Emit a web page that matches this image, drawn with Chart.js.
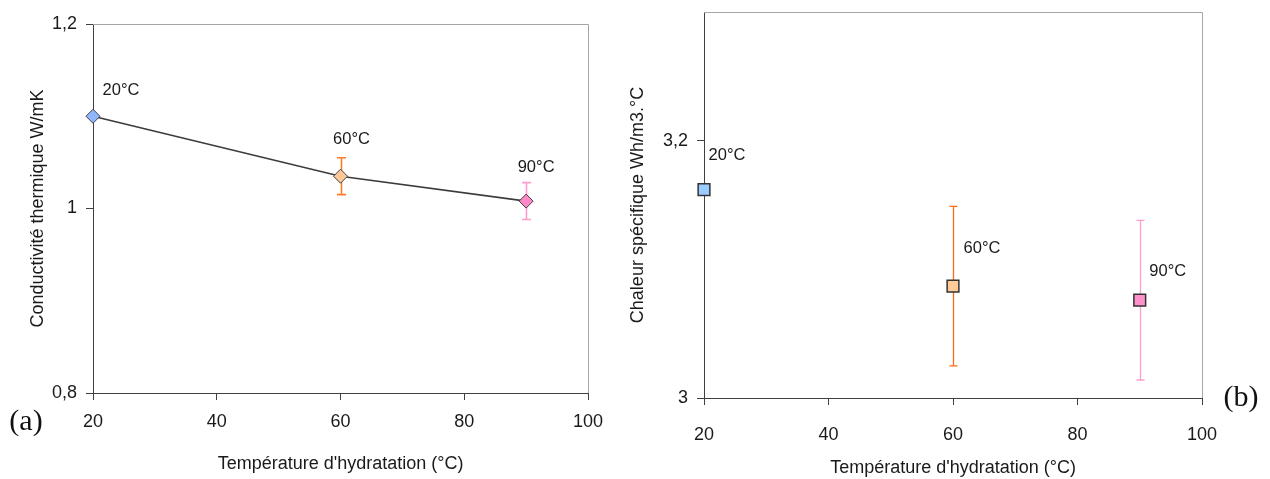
<!DOCTYPE html>
<html>
<head>
<meta charset="utf-8">
<script src="https://cdn.jsdelivr.net/npm/chart.js@4/dist/chart.umd.min.js"></script>
<style>
  html, body { margin: 0; padding: 0; background: #ffffff; }
  body { width: 1270px; height: 479px; position: relative; overflow: hidden; }
  canvas { position: absolute; top: 0; }
  #ca { left: 0; }
  #cb { left: 620px; }
  .tag { position: absolute; font-family: "Liberation Serif", "DejaVu Serif", serif; font-size: 30px; color: #111; transform: translate(-50%, -50%); line-height: 1; white-space: nowrap; }
</style>
</head>
<body>
<canvas id="ca" width="620" height="479"></canvas>
<canvas id="cb" width="650" height="479"></canvas>
<div class="tag" style="left:26px; top:420px;">(a)</div>
<div class="tag" style="left:1241px; top:396px;">(b)</div>
<script>
// ---- data ----
const temps = [20, 60, 90];
const pointLabels = ['20°C', '60°C', '90°C'];
const conductivity = [1.100, 1.035, 1.008];
const conductivityErr = [0, 0.020, 0.020];
const specificHeat = [3.162, 3.087, 3.076];
const specificHeatErr = [0, 0.062, 0.062];
const xTicks = [20, 40, 60, 80, 100];
const yTicksA = [0.8, 1.0, 1.2];
const yTicksB = [3.0, 3.2];

// ---- styles ----
const FONT = '"Liberation Sans", Arial, sans-serif';
const TEXT = '#1a1a1a';
const AXIS = '#404040';
const FRAME = '#a6a6a6';
const fillsA = ['#8fb6ff', '#ffc898', '#ff88c8'];
const fillsB = ['#99ccff', '#ffcc99', '#ff92cc'];
const errColorsA = ['#ff7a26', '#ff7a26', '#ff9ccc'];
const errColorsB = ['#ff6a1a', '#ff6a1a', '#ff9ccc'];
const labelOffsetsA = [[28, -26], [11, -37], [10, -34]];
const labelOffsetsB = [[23, -34], [29, -38], [28, -29]];

const fmt = v => String(Math.round(v * 10) / 10).replace('.', ',');

function framePlugin() {
  return {
    id: 'frame',
    beforeDatasetsDraw(chart) {
      const {ctx, chartArea: a} = chart;
      ctx.save();
      ctx.strokeStyle = FRAME;
      ctx.lineWidth = 1;
      ctx.beginPath();
      ctx.moveTo(Math.floor(a.left), Math.floor(a.top) + 0.5);
      ctx.lineTo(Math.floor(a.right) + 0.5, Math.floor(a.top) + 0.5);
      ctx.lineTo(Math.floor(a.right) + 0.5, Math.floor(a.bottom));
      ctx.stroke();
      ctx.restore();
    }
  };
}

function errorPlugin(errs, colors, cap, width) {
  return {
    id: 'errbars',
    beforeDatasetsDraw(chart) {
      const {ctx} = chart;
      const xs = chart.scales.x, ys = chart.scales.y;
      const ds = chart.data.datasets[0].data;
      ctx.save();
      ctx.lineWidth = width;
      ds.forEach((p, i) => {
        const e = errs[i];
        if (!e) return;
        const x = Math.round(xs.getPixelForValue(p.x)) + 0.5;
        const y1 = ys.getPixelForValue(p.y + e);
        const y2 = ys.getPixelForValue(p.y - e);
        ctx.strokeStyle = colors[i];
        ctx.beginPath();
        ctx.moveTo(x, y1); ctx.lineTo(x, y2);
        ctx.moveTo(x - cap / 2, y1); ctx.lineTo(x + cap / 2, y1);
        ctx.moveTo(x - cap / 2, y2); ctx.lineTo(x + cap / 2, y2);
        ctx.stroke();
      });
      ctx.restore();
    }
  };
}

function labelPlugin(offsets) {
  return {
    id: 'ptlabels',
    afterDatasetsDraw(chart) {
      const {ctx} = chart;
      const meta = chart.getDatasetMeta(0);
      ctx.save();
      ctx.font = '16.5px ' + FONT;
      ctx.fillStyle = TEXT;
      ctx.textAlign = 'center';
      ctx.textBaseline = 'middle';
      meta.data.forEach((el, i) => {
        ctx.fillText(pointLabels[i], el.x + offsets[i][0], el.y + offsets[i][1]);
      });
      ctx.restore();
    }
  };
}

function scales(cfg) {
  return {
    x: {
      type: 'linear', min: 20, max: 100,
      afterBuildTicks: s => { s.ticks = xTicks.map(v => ({value: v})); },
      afterFit: s => { s.height = cfg.xHeight; s.paddingLeft = 0; s.paddingRight = 0; },
      grid: { drawOnChartArea: false, drawTicks: true, tickLength: 7, color: AXIS, lineWidth: 1 },
      border: { display: true, color: AXIS, width: 1 },
      ticks: { padding: cfg.xTickPad, color: TEXT, font: { family: FONT, size: 18 }, maxRotation: 0,
               callback: v => String(v) },
      title: { display: true, text: "Température d'hydratation (°C)", color: TEXT,
               font: { family: FONT, size: 18 }, padding: { top: 0, bottom: cfg.xTitlePad } }
    },
    y: {
      type: 'linear', min: cfg.yMin, max: cfg.yMax,
      afterBuildTicks: s => { s.ticks = cfg.yTicks.map(v => ({value: v})); },
      afterFit: s => { s.width = cfg.yWidth; s.paddingTop = 0; s.paddingBottom = 0; },
      grid: { drawOnChartArea: false, drawTicks: true, tickLength: 7, color: AXIS, lineWidth: 1 },
      border: { display: true, color: AXIS, width: 1 },
      ticks: { padding: 9, color: TEXT, font: { family: FONT, size: 18 }, callback: v => fmt(v) },
      title: { display: true, text: cfg.yTitle, color: TEXT,
               font: { family: FONT, size: 18 }, padding: { top: cfg.yTitlePad, bottom: 0 } }
    }
  };
}

new Chart(document.getElementById('ca'), {
  type: 'line',
  data: {
    datasets: [{
      data: temps.map((t, i) => ({x: t, y: conductivity[i]})),
      clip: false,
      borderColor: '#3c3c3c',
      borderWidth: 1.6,
      tension: 0,
      pointStyle: 'rectRot',
      pointRadius: 7,
      pointBackgroundColor: fillsA,
      pointBorderColor: '#404040',
      pointBorderWidth: 1
    }]
  },
  options: {
    responsive: false, animation: false, devicePixelRatio: 1,
    layout: { padding: { left: 0, top: 24, right: 32, bottom: 0 } },
    plugins: { legend: { display: false }, tooltip: { enabled: false } },
    scales: scales({ xHeight: 86, xTickPad: 11, xTitlePad: 4, yMin: 0.8, yMax: 1.2, yTicks: yTicksA,
                     yWidth: 93, yTitle: 'Conductivité thermique W/mK', yTitlePad: 27 })
  },
  plugins: [framePlugin(), errorPlugin(conductivityErr, errColorsA, 9, 1.6), labelPlugin(labelOffsetsA)]
});

new Chart(document.getElementById('cb'), {
  type: 'scatter',
  data: {
    datasets: [{
      data: temps.map((t, i) => ({x: t, y: specificHeat[i]})),
      clip: false,
      showLine: false,
      pointStyle: 'rect',
      pointRadius: 8.3,
      pointBackgroundColor: fillsB,
      pointBorderColor: '#333333',
      pointBorderWidth: 1.5
    }]
  },
  options: {
    responsive: false, animation: false, devicePixelRatio: 1,
    layout: { padding: { left: 0, top: 12, right: 68, bottom: 0 } },
    plugins: { legend: { display: false }, tooltip: { enabled: false } },
    scales: scales({ xHeight: 81, xTickPad: 19, xTitlePad: 0, yMin: 3.0, yMax: 3.3, yTicks: yTicksB,
                     yWidth: 84, yTitle: 'Chaleur spécifique Wh/m3.°C', yTitlePad: 7 })
  },
  plugins: [framePlugin(), errorPlugin(specificHeatErr, errColorsB, 8, 1.3), labelPlugin(labelOffsetsB)]
});
</script>
</body>
</html>
